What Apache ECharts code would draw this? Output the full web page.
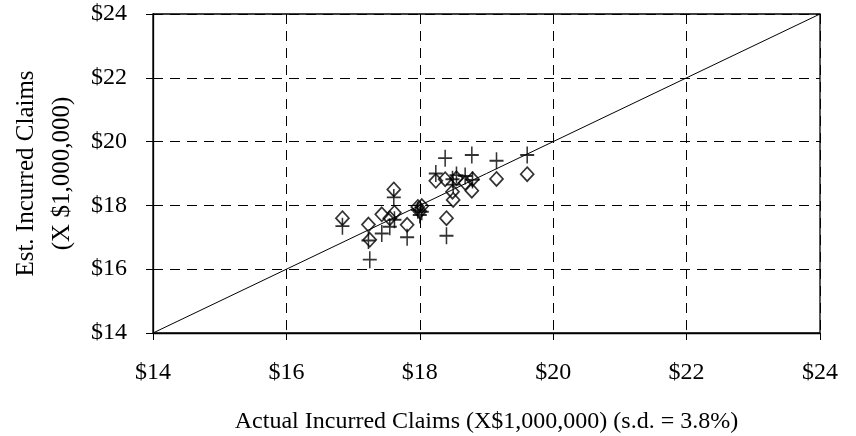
<!DOCTYPE html>
<html>
<head>
<meta charset="utf-8">
<script src="https://cdn.jsdelivr.net/npm/echarts@6/dist/echarts.min.js"></script>
<style>
  html, body { margin: 0; padding: 0; background: #fff; }
  #chart { width: 856px; height: 436px; }
</style>
</head>
<body>
<div id="chart"></div>
<script>
// Actual incurred claims (X $1,000,000) for each period
const actual = [16.84, 17.23, 17.25, 17.43, 17.55, 17.61, 17.62, 17.81, 17.97, 18.00, 18.03,
                18.24, 18.38, 18.40, 18.49, 18.50, 18.55, 18.68, 18.78, 18.79, 19.15, 19.61];
// Estimate from method 1 (diamond markers)
const estDiamond = [17.60, 17.40, 16.92, 17.72, 17.60, 18.50, 17.77, 17.39, 17.95, 17.82, 17.98,
                    18.77, 18.82, 17.60, 18.43, 18.17, 18.85, 18.71, 18.46, 18.82, 18.83, 18.98];
// Estimate from method 2 (plus markers)
const estCross = [17.35, 16.90, 16.30, 17.12, 17.33, 18.25, 17.55, 17.00, 17.85, 17.70, 17.80,
                  19.00, 19.48, 17.05, 18.82, 18.65, 18.95, 18.92, 19.58, 18.80, 19.40, 19.58];
// Axis range and tick step
const axisRange = [14, 24];
const tickStep = 2;

const font = 'Liberation Serif, "Times New Roman", serif';
const chart = echarts.init(document.getElementById('chart'));

const pairs = (ys) => actual.map((x, i) => [x, ys[i]]);

const axisCommon = {
  type: 'value',
  min: axisRange[0],
  max: axisRange[1],
  interval: tickStep,
  axisLine: { show: true, onZero: false, lineStyle: { color: '#000', width: 1.3 } },
  axisTick: { show: true, inside: false, length: 7, lineStyle: { color: '#000', width: 1 } },
  splitLine: { show: true, lineStyle: { color: '#000', width: 1, type: [10, 7] } },
  axisLabel: {
    color: '#000', fontFamily: font, fontSize: 24,
    formatter: (v) => '$' + v
  },
  nameTextStyle: { color: '#000', fontFamily: font, fontSize: 24 },
  nameLocation: 'middle'
};

chart.setOption({
  animation: false,
  backgroundColor: '#fff',
  grid: {
    left: 153, right: 36, top: 14, bottom: 103,
    containLabel: false,
    outerBoundsMode: 'none',
    show: true, borderColor: '#000', borderWidth: 1.3, backgroundColor: 'transparent'
  },
  xAxis: Object.assign({}, axisCommon, {
    name: 'Actual Incurred Claims (X$1,000,000) (s.d. = 3.8%)',
    nameGap: 77,
    axisLabel: Object.assign({}, axisCommon.axisLabel, { margin: 28 })
  }),
  yAxis: Object.assign({}, axisCommon, {
    name: 'Est. Incurred Claims\n(X $1,000,000)',
    nameGap: 72,
    nameRotate: 90,
    nameTextStyle: Object.assign({}, axisCommon.nameTextStyle, { fontSize: 25, lineHeight: 36 }),
    axisLabel: Object.assign({}, axisCommon.axisLabel, { margin: 26 })
  }),
  series: [
    {
      // line of perfect agreement between estimate and actual
      type: 'line',
      data: [[axisRange[0], axisRange[0]], [axisRange[1], axisRange[1]]],
      symbol: 'none',
      lineStyle: { color: '#000', width: 1 },
      silent: true,
      z: 1
    },
    {
      type: 'scatter',
      data: pairs(estDiamond),
      symbol: 'diamond',
      symbolSize: [13, 14],
      itemStyle: { color: 'rgba(0,0,0,0)', borderColor: '#000', borderWidth: 1.7 },
      z: 3
    },
    {
      type: 'scatter',
      data: pairs(estCross),
      symbol: 'path://M5,0L5,10M0,5L10,5',
      symbolSize: [14, 17],
      itemStyle: { color: 'rgba(0,0,0,0)', borderColor: '#000', borderWidth: 1.7 },
      z: 3
    }
  ]
});
</script>
</body>
</html>
